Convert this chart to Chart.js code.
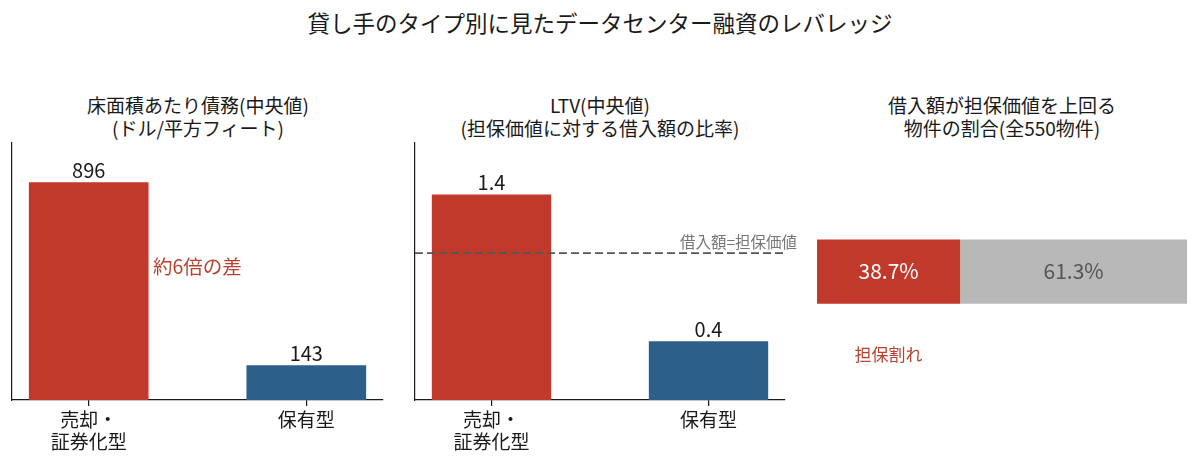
<!DOCTYPE html>
<html><head><meta charset="utf-8">
<script src="https://cdn.jsdelivr.net/npm/chart.js@4.4.1/dist/chart.umd.min.js"></script>
<style>
html,body{margin:0;padding:0;background:#fff;width:1200px;height:465px;overflow:hidden;font-family:"Noto Sans CJK JP","Noto Sans",sans-serif;}
.t{position:absolute;text-align:center;color:#1a1a1a;white-space:nowrap;}
canvas{position:absolute;top:0;}
</style></head><body>
<div id="title" class="t" style="left:0;width:1200px;top:7px;font-size:22.5px;line-height:30px;"></div>
<div id="s1" class="t" style="left:-2px;width:400px;top:93px;font-size:19px;line-height:23px"></div>
<div id="s2" class="t" style="left:400px;width:400px;top:93px;font-size:19px;line-height:23px"></div>
<div id="s3" class="t" style="left:802px;width:400px;top:93px;font-size:19px;line-height:23px"></div>
<canvas id="c1" width="400" height="465" style="left:0"></canvas>
<canvas id="c2" width="400" height="465" style="left:400px"></canvas>
<canvas id="c3" width="400" height="465" style="left:800px"></canvas>
<script>
// ---- data ----
const mainTitle = '貸し手のタイプ別に見たデータセンター融資のレバレッジ';
const panelTitles = [
  ['床面積あたり債務(中央値)', '(ドル/平方フィート)'],
  ['LTV(中央値)', '(担保価値に対する借入額の比率)'],
  ['借入額が担保価値を上回る', '物件の割合(全550物件)']
];
const categories = [['売却・', '証券化型'], ['保有型']];
const debtPerSqft = [896, 143];
const debtValueLabels = ['896', '143'];
const ltvMedian = [1.4, 0.4];
const ltvValueLabels = ['1.4', '0.4'];
const breakEvenLTV = 1.0;
const breakEvenLabel = '借入額=担保価値';
const gapNote = '約6倍の差';
const underwaterShare = [38.7];
const otherShare = [61.3];
const shareLabels = ['38.7%', '61.3%'];
const underwaterNote = '担保割れ';
const barColors = ['#c0392b', '#2d5f8b'];
const grayColor = '#b8b8b8';
const noteRed = '#b8422f';

document.getElementById('title').textContent = mainTitle;
['s1','s2','s3'].forEach((id,i)=>{ document.getElementById(id).innerHTML = panelTitles[i].map(s=>s.replace(/&/g,'&amp;').replace(/</g,'&lt;')).join('<br>'); });

const FONT = '"Noto Sans CJK JP", "Noto Sans", sans-serif';
Chart.defaults.font.family = FONT;
Chart.defaults.color = '#1a1a1a';

function valueLabelPlugin(labels){
  return {
    id: 'valueLabels',
    afterDatasetsDraw(chart){
      const ctx = chart.ctx;
      const meta = chart.getDatasetMeta(0);
      ctx.save();
      ctx.font = '20px ' + FONT;
      ctx.fillStyle = '#1a1a1a';
      ctx.textAlign = 'center';
      ctx.textBaseline = 'alphabetic';
      meta.data.forEach((bar, i) => ctx.fillText(labels[i], bar.x, bar.y - 4));
      ctx.restore();
    }
  };
}

function barOptions(yMax, padL, padR){
  return {
    responsive: false,
    animation: false,
    events: [],
    layout: { padding: { left: padL, right: padR, top: 143, bottom: 0 } },
    plugins: { legend: { display: false }, tooltip: { enabled: false }, title: { display: false } },
    scales: {
      x: {
        type: 'linear',
        offset: false,
        min: -0.3525, max: 1.3525,
        afterBuildTicks: s => { s.ticks = categories.map((c, i) => ({ value: i })); },
        afterFit: s => { s.height = 65; },
        ticks: {
          autoSkip: false, maxRotation: 0,
          padding: 3,
          color: '#1a1a1a',
          font: { size: 19, lineHeight: 1.15 },
          callback: (v) => categories[v]
        },
        grid: { display: true, offset: false, drawOnChartArea: false, drawTicks: true, tickLength: 6, color: '#1a1a1a', lineWidth: 1.2 },
        border: { display: true, color: '#1a1a1a', width: 1.2 }
      },
      y: {
        min: 0, max: yMax,
        afterFit: s => { s.width = 0; },
        ticks: { display: false },
        grid: { display: false },
        border: { display: true, color: '#1a1a1a', width: 1.2 }
      }
    }
  };
}

// Panel 1
const gapPlugin = {
  id: 'gapNote',
  afterDatasetsDraw(chart){
    const ctx = chart.ctx;
    ctx.save();
    ctx.font = '19.5px ' + FONT;
    ctx.fillStyle = noteRed;
    ctx.textAlign = 'left';
    ctx.textBaseline = 'middle';
    ctx.fillText(gapNote, chart.scales.x.getPixelForValue(0.295), chart.scales.y.getPixelForValue(547));
    ctx.restore();
  }
};
new Chart(document.getElementById('c1'), {
  type: 'bar',
  data: { datasets: [{ data: debtPerSqft.map((v, i) => ({ x: i, y: v })), backgroundColor: barColors, borderWidth: 0, barPercentage: 0.55, categoryPercentage: 1 }] },
  options: barOptions(1057, 12, 17),
  plugins: [valueLabelPlugin(debtValueLabels), gapPlugin]
});

// Panel 2
const breakEvenPlugin = {
  id: 'breakEven',
  afterDatasetsDraw(chart){
    const ctx = chart.ctx, a = chart.chartArea;
    const y = chart.scales.y.getPixelForValue(breakEvenLTV);
    ctx.save();
    ctx.strokeStyle = '#555555';
    ctx.lineWidth = 1.6;
    ctx.setLineDash([8, 4]);
    ctx.beginPath(); ctx.moveTo(a.left, y); ctx.lineTo(a.right, y); ctx.stroke();
    ctx.setLineDash([]);
    ctx.font = '15.5px ' + FONT;
    ctx.fillStyle = '#777777';
    ctx.textAlign = 'right';
    ctx.textBaseline = 'middle';
    ctx.fillText(breakEvenLabel, a.right + 12, y - 11);
    ctx.restore();
  }
};
new Chart(document.getElementById('c2'), {
  type: 'bar',
  data: { datasets: [{ data: ltvMedian.map((v, i) => ({ x: i, y: v })), backgroundColor: barColors, borderWidth: 0, barPercentage: 0.55, categoryPercentage: 1 }] },
  options: barOptions(1.75, 15, 15),
  plugins: [valueLabelPlugin(ltvValueLabels), breakEvenPlugin]
});

// Panel 3
const sharePlugin = {
  id: 'shareLabels',
  afterDatasetsDraw(chart){
    const ctx = chart.ctx;
    const red = chart.getDatasetMeta(0).data[0];
    const gray = chart.getDatasetMeta(1).data[0];
    ctx.save();
    ctx.font = '21px ' + FONT;
    ctx.textAlign = 'center';
    ctx.textBaseline = 'middle';
    ctx.fillStyle = '#ffffff';
    ctx.fillText(shareLabels[0], (red.x + red.base) / 2, red.y);
    ctx.fillStyle = '#555555';
    ctx.fillText(shareLabels[1], (gray.x + gray.base) / 2, gray.y);
    ctx.font = '17px ' + FONT;
    ctx.fillStyle = noteRed;
    ctx.fillText(underwaterNote, (red.x + red.base) / 2, red.y + red.height / 2 + 51);
    ctx.restore();
  }
};
new Chart(document.getElementById('c3'), {
  type: 'bar',
  data: {
    labels: [''],
    datasets: [
      { data: underwaterShare, backgroundColor: barColors[0], borderWidth: 0, barPercentage: 0.25, categoryPercentage: 1 },
      { data: otherShare, backgroundColor: grayColor, borderWidth: 0, barPercentage: 0.25, categoryPercentage: 1 }
    ]
  },
  options: {
    indexAxis: 'y',
    responsive: false,
    animation: false,
    events: [],
    layout: { padding: { left: 17, right: 13, top: 143, bottom: 65 } },
    plugins: { legend: { display: false }, tooltip: { enabled: false } },
    scales: {
      x: { stacked: true, min: 0, max: 100, display: false },
      y: { stacked: true, display: false }
    }
  },
  plugins: [sharePlugin]
});
</script>
</body></html>
